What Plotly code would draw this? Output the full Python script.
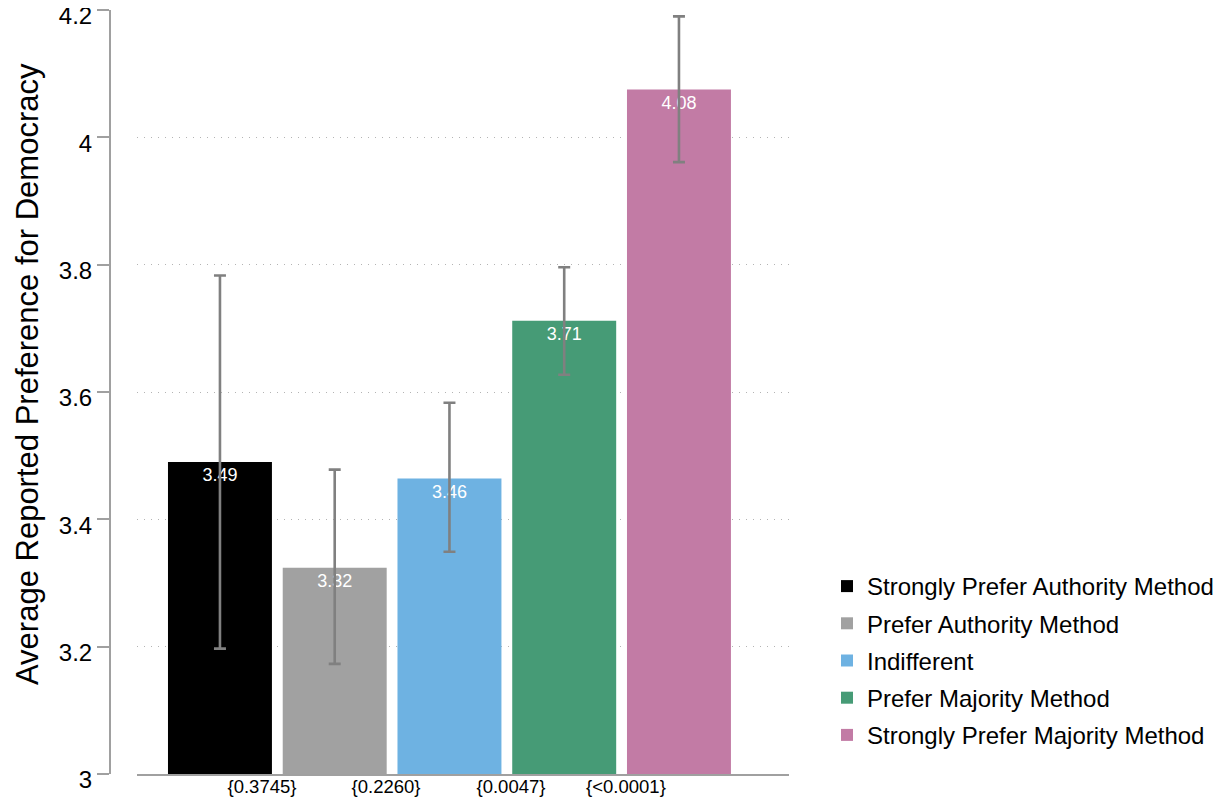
import plotly.graph_objects as go

# ---- data ----
categories = [
    "Strongly Prefer Authority Method",
    "Prefer Authority Method",
    "Indifferent",
    "Prefer Majority Method",
    "Strongly Prefer Majority Method",
]
means = [3.490, 3.324, 3.464, 3.712, 4.075]
ci_upper = [3.783, 3.478, 3.583, 3.796, 4.190]
ci_lower = [3.197, 3.173, 3.349, 3.627, 3.961]
value_labels = ["3.49", "3.32", "3.46", "3.71", "4.08"]
pvalue_labels = ["{0.3745}", "{0.2260}", "{0.0047}", "{<0.0001}"]
y_ticks = [3, 3.2, 3.4, 3.6, 3.8, 4, 4.2]
y_ticktext = ["3", "3.2", "3.4", "3.6", "3.8", "4", "4.2"]
y_title = "Average Reported Preference for Democracy"

# ---- style / layout ----
colors = ["#000000", "#a1a1a1", "#6eb2e2", "#469b76", "#c27ba5"]
pvalue_pos = [1.366, 2.447, 3.536, 4.538]
FONT = "Liberation Sans, Arial, Helvetica, sans-serif"

# figure sits at an 8px body margin inside the 1223x799 window
W, H = 1215, 791
L, R, T, B = 102, 434, 2, 25
plot_w = W - L - R
plot_h = H - T - B
x_axis_left_px = 129


def px_x(p):
    return (p - L) / plot_w


def px_y(p):
    return (H - B - p) / plot_h


fig = go.Figure()
for i, cat in enumerate(categories):
    fig.add_trace(go.Bar(
        x=[i + 1],
        y=[means[i]],
        base=0,
        name=cat,
        legendgroup="g%d" % i,
        marker=dict(color=colors[i], line=dict(width=0)),
        text=[value_labels[i]],
        textposition="inside",
        insidetextanchor="end",
        textangle=0,
        textfont=dict(color="white", size=18, family=FONT),
        error_y=dict(
            type="data",
            symmetric=False,
            array=[ci_upper[i] - means[i]],
            arrayminus=[means[i] - ci_lower[i]],
            color="#808080",
            thickness=2.6,
            width=6,
        ),
        width=0.906,
    ))

fig.add_annotation(
    text=y_title, textangle=-90,
    xref="paper", yref="paper",
    x=px_x(19), y=px_y(366),
    xanchor="center", yanchor="middle",
    showarrow=False,
    font=dict(size=31, family=FONT, color="black"),
)

fig.update_layout(
    width=W, height=H,
    margin=dict(l=L, r=R, t=T, b=B, autoexpand=False),
    plot_bgcolor="white", paper_bgcolor="white",
    font=dict(family=FONT, color="black"),
    barmode="overlay",
    showlegend=True,
    legend=dict(
        x=px_x(819), xanchor="left",
        y=px_y(556), yanchor="top",
        font=dict(size=24, family=FONT, color="black"),
        bgcolor="rgba(0,0,0,0)",
        tracegroupgap=3,
        itemwidth=30,
    ),
    xaxis=dict(
        domain=[px_x(x_axis_left_px), 1.0],
        range=[0.277, 5.959],
        tickmode="array",
        tickvals=pvalue_pos,
        ticktext=pvalue_labels,
        tickfont=dict(size=18.5, family=FONT, color="black"),
        ticklabeloverflow="allow",
        ticklabelstandoff=-5,
        showline=True, linecolor="#a0a0a0", linewidth=2,
        ticks="", showgrid=False, zeroline=False,
        automargin=False,
        fixedrange=True,
    ),
    yaxis=dict(
        anchor="free", position=0,
        range=[3, 4.2],
        tickmode="array",
        tickvals=y_ticks,
        ticktext=y_ticktext,
        tickfont=dict(size=24, family=FONT, color="black"),
        ticklabeloverflow="allow",
        ticklabelshift=6,
        ticks="outside", ticklen=12, tickwidth=1.5, tickcolor="#a0a0a0",
        showline=True, linecolor="#a0a0a0", linewidth=2,
        showgrid=True, gridcolor="#b4b4b4", gridwidth=1, griddash="1px,6px",
        zeroline=False,
        automargin=False,
        fixedrange=True,
    ),
)

fig.write_html("out.html")
